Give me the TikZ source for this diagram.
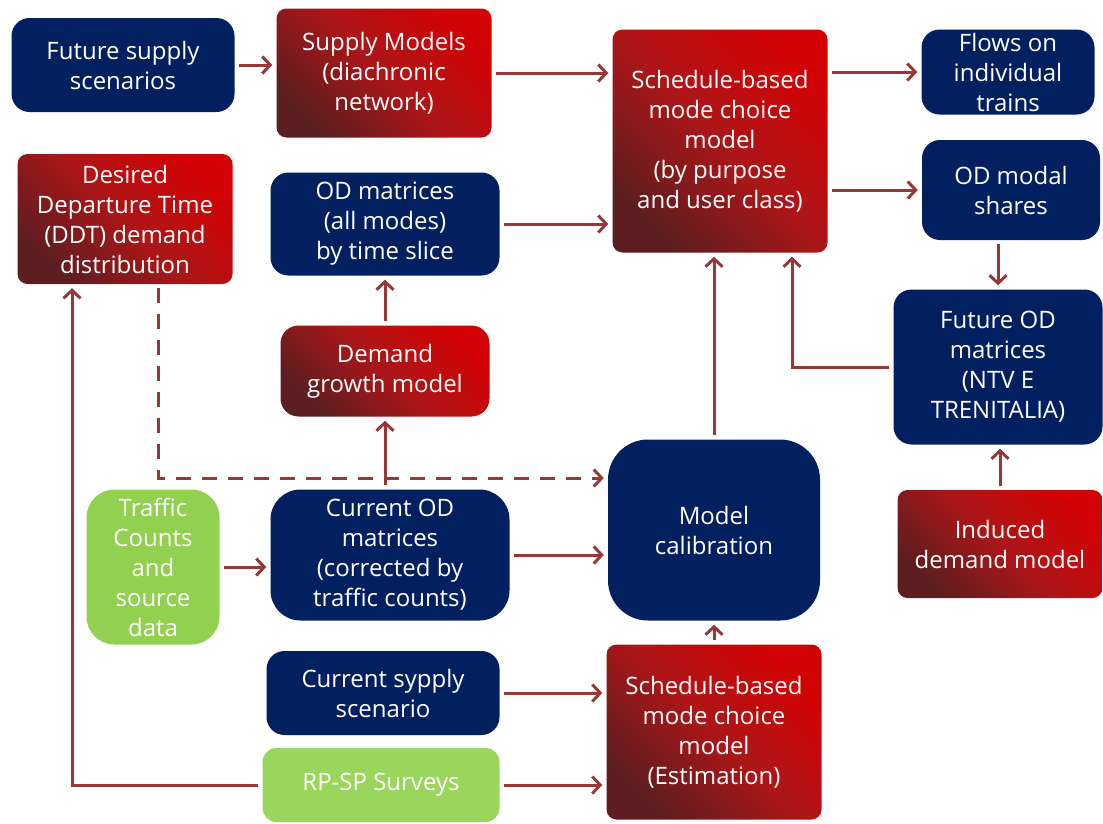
\documentclass[tikz,border=0pt]{standalone}
\usepackage{fontspec}
\setmainfont{Open Sans}
\usetikzlibrary{arrows.meta,positioning,calc}
\definecolor{navy}{RGB}{2,32,96}
\definecolor{brred}{RGB}{210,2,4}
\definecolor{mdred}{RGB}{172,22,24}
\definecolor{dkred}{RGB}{92,30,32}
\definecolor{grn}{RGB}{146,208,80}
\definecolor{lgrn}{RGB}{155,214,92}
\definecolor{arrc}{RGB}{150,56,54}
\tikzset{
  box/.style={text=white, align=center, inner sep=0pt,
              font=\fontsize{24}{30}\selectfont},
  blu/.style={box, fill=navy, rounded corners=18pt},
  rd/.style={box, rounded corners=10pt, top color=brred, bottom color=dkred,
             middle color=mdred, shading angle=-45},
  gr/.style={box, fill=grn, rounded corners=28pt},
  arr/.style={-{Straight Barb[length=8pt,width=17pt]}, arrc, line width=3pt,
              shorten <=4pt, shorten >=4pt},
  darr/.style={arr, dash pattern=on 15pt off 11pt},
}

\begin{document}
\begin{tikzpicture}[x=1pt, y=-1pt]
    \useasboundingbox (0,0) rectangle (1103,823);
    % top row
    \node[blu, minimum width=223, minimum height=94] (fut) at (123,65) {Future supply\\scenarios};
    \node[rd, minimum width=215, minimum height=129] (sup) at (384,73) {Supply Models\\(diachronic\\network)};
    \node[rd, minimum width=215, minimum height=223] (sch) at (720,141) {Schedule-based\\mode choice\\model\\(by purpose\\and user class)};
    \node[blu, minimum width=173, minimum height=85] (flw) at (1008,72) {Flows on\\individual\\trains};
    \node[blu, minimum width=178, minimum height=100] (odm) at (1011,190) {OD modal\\shares};
    % left column
    \node[rd, minimum width=215, minimum height=130] (ddt) at (125,219) {Desired\\Departure Time\\(DDT) demand\\distribution};
    \node[blu, minimum width=229, minimum height=103] (odt) at (385,224) {OD matrices\\(all modes)\\by time slice};
    \node[rd, minimum width=209, minimum height=91, rounded corners=18pt] (dgm) at (385,371) {Demand\\growth model};
    \node[blu, minimum width=209, minimum height=155] (fod) at (998,367) {Future OD\\matrices\\(NTV E\\TRENITALIA)};
    % lower part
    \node[blu, minimum width=212, minimum height=181, rounded corners=40pt] (cal) at (714,530) {Model\\calibration};
    \node[rd, minimum width=205, minimum height=108] (ind) at (1000,544) {Induced\\demand model};
    \node[gr, minimum width=133, minimum height=155] (tfc) at (153,567) {Traffic\\Counts\\and\\source\\data};
    \node[blu, minimum width=239, minimum height=131, rounded corners=30pt] (cur) at (390,555) {Current OD\\matrices\\(corrected by\\traffic counts)};
    \node[blu, minimum width=233, minimum height=84] (csc) at (383,693) {Current sypply\\scenario};
    \node[rd, minimum width=215, minimum height=175] (est) at (714,732) {Schedule-based\\mode choice\\model\\(Estimation)};
    \node[gr, fill=lgrn, minimum width=237, minimum height=74, rounded corners=14pt] (rps) at (381,785) {RP-SP Surveys};
    % arrows
    \draw[arr] (fut.east) -- (fut.east -| sup.west);
    \draw[arr] (sup.east) -- (sup.east -| sch.west);
    \draw[arr] (flw.west -| sch.east) -- (flw.west);
    \draw[arr] (odm.west -| sch.east) -- (odm.west);
    \draw[arr] (odt.east) -- (odt.east -| sch.west);
    \draw[arr] (fod.north |- odm.south) -- (fod.north);
    \draw[arr] (fod.west) -| ([xshift=72pt]sch.south);
    \draw[arr] (cal.north) -- (cal.north |- sch.south);
    \draw[arr] (dgm.north) -- (odt.south);
    \draw[arr] (cur.north -| dgm.south) -- (dgm.south);
    \draw[darr] ([xshift=33pt]ddt.south) |- ([yshift=52pt]cal.west);
    \draw[arr] (tfc.east) -- (tfc.east -| cur.west);
    \draw[arr] (cur.east) -- (cur.east -| cal.west);
    \draw[arr] (csc.east) -- (csc.east -| est.west);
    \draw[arr] (rps.east) -- (rps.east -| est.west);
    \draw[arr] (rps.west) -| ([xshift=-53pt]ddt.south);
    \draw[arr] (est.north) -- (cal.south);
    \draw[arr] (ind.north) -- (ind.north |- fod.south);
\end{tikzpicture}
\end{document}
